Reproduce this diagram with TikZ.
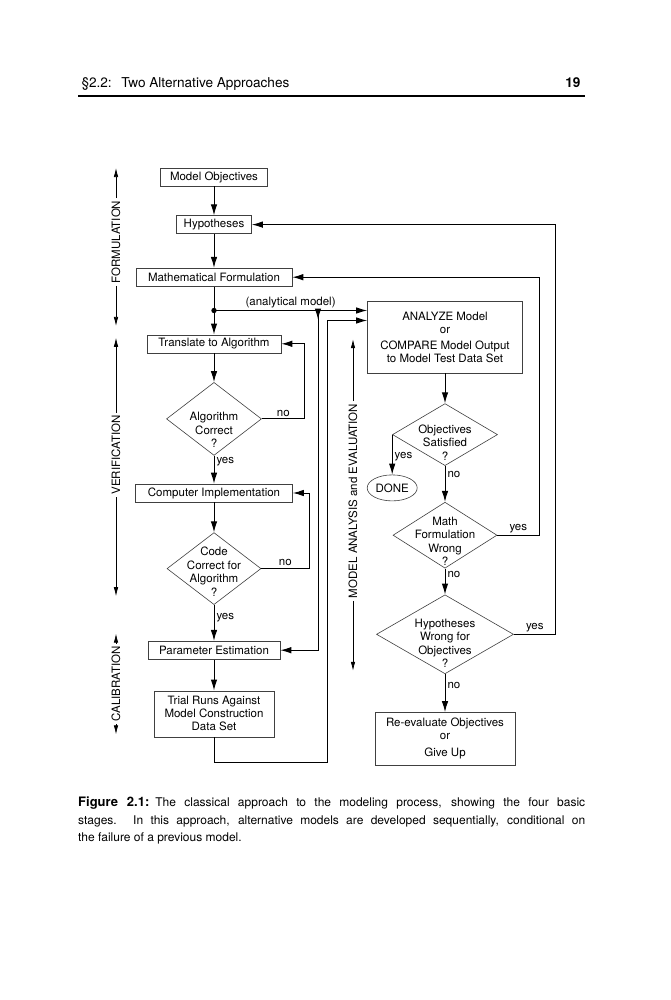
\documentclass[tikz,border=0pt]{standalone}
\usepackage{fontspec}
\setmainfont{TeX Gyre Heros}
\usepackage{tikz}
\usetikzlibrary{shapes,arrows.meta,positioning,calc}

\tikzstyle{block} = [rectangle, draw=black!75, line width=0.6pt, align=center, minimum height=18pt, inner sep=2pt]
\tikzstyle{decision} = [diamond, draw=black!75, line width=0.6pt, inner sep=0pt]
\tikzstyle{terminal} = [ellipse, draw=black!75, line width=0.6pt, minimum width=50pt, minimum height=26pt, inner sep=0pt]
\tikzstyle{qtext} = [align=center, inner sep=0pt, font=\fontsize{11.5}{13.5}\selectfont]
\tikzstyle{answer} = [inner sep=2pt]
\tikzstyle{stage} = [rotate=90, inner sep=2.5pt]
\tikzstyle{flow} = [line width=1pt, -{Latex[length=11pt,width=6.5pt]}]
\tikzstyle{stagearrow} = [line width=0.7pt, -{Latex[length=9pt,width=4.5pt]}]

\newcommand{\diagfont}{\fontsize{11.5}{13}\selectfont}

\begin{document}
\begin{tikzpicture}[x=1pt, y=-1pt, node distance=30pt, font=\diagfont]
  \useasboundingbox[fill=white] (0,0) rectangle (671,1000);

  % page head
  \node [anchor=base west, font=\fontsize{13.6}{16}\selectfont] (head) at (78,88) {\S2.2:\hspace{0.7em}Two Alternative Approaches};
  \node [anchor=base east, font=\fontsize{13.6}{16}\selectfont\bfseries] (page) at (584,88) {19};
  \draw [line width=1.4pt] ($(head.base west)+(0,8)$) -- ($(page.base east)+(1,8)$);

  % left column
  \node [block, minimum width=107pt] (objectives) at (214,177) {Model Objectives};
  \node [block, minimum width=75pt, below=29pt of objectives] (hypotheses) {Hypotheses};
  \node [block, minimum width=156pt, below=34pt of hypotheses] (mathform) {Mathematical Formulation};
  \node [block, minimum width=134pt, below=48pt of mathform] (translate) {Translate to Algorithm};
  \node [decision, minimum width=95pt, minimum height=73pt, below=29pt of translate] (algcheck) {};
  \node [qtext] (algtext) at ($(algcheck)+(0,11)$) {Algorithm\\Correct\\?};
  \node [block, minimum width=157pt, below=28pt of algcheck] (implement) {Computer Implementation};
  \node [decision, minimum width=94pt, minimum height=72pt, below=30pt of implement] (codecheck) {};
  \node [qtext] (codetext) at ($(codecheck)+(0,3)$) {Code\\Correct for\\Algorithm\\?};
  \node [block, minimum width=132pt, below=36pt of codecheck] (paramest) {Parameter Estimation};
  \node [block, minimum width=120pt, minimum height=46pt, below=31pt of paramest] (trialruns) {Trial Runs Against\\Model Construction\\Data Set};

  % right column
  \node [block, minimum width=155pt, minimum height=72pt] (analyze) at (445,337) {ANALYZE Model\\or\\[3pt]COMPARE Model Output\\to Model Test Data Set};
  \node [decision, minimum width=105pt, minimum height=62pt, below=30pt of analyze] (objcheck) {};
  \node [qtext] (objtext) at ($(objcheck)+(0,8)$) {Objectives\\Satisfied\\?};
  \node [terminal, below=40pt of objcheck.west] (done) {DONE};
  \node [decision, minimum width=104pt, minimum height=66pt, below=36pt of objcheck] (mathcheck) {};
  \node [qtext] (mathtext) at ($(mathcheck)+(0,6)$) {Math\\Formulation\\Wrong\\?};
  \node [decision, minimum width=137pt, minimum height=79pt, below=26pt of mathcheck] (hypcheck) {};
  \node [qtext] (hyptext) at ($(hypcheck)+(0,9)$) {Hypotheses\\Wrong for\\Objectives\\?};
  \node [block, minimum width=140pt, minimum height=53pt, below=38pt of hypcheck] (reeval) {Re-evaluate Objectives\\or\\[4pt]Give Up};

  % stages
  \node [stage] (formulation) at (116,242) {FORMULATION};
  \draw [stagearrow] (formulation.east) -- ++(0,-30);
  \draw [stagearrow] (formulation.west) -- ++(0,40);
  \node [stage] (verification) at (116,455) {VERIFICATION};
  \draw [stagearrow] (verification.east) -- ++(0,-75);
  \draw [stagearrow] (verification.west) -- ++(0,99);
  \node [stage] (calibration) at (116,684) {CALIBRATION};
  \draw [stagearrow] (calibration.east) -- ++(0,-10);
  \draw [stagearrow] (calibration.west) -- ++(0,10);
  \node [stage] (evaluation) at (353,501) {MODEL ANALYSIS and EVALUATION};
  \draw [stagearrow] (evaluation.east) -- ++(0,-62);
  \draw [stagearrow] (evaluation.west) -- ++(0,70);

  % connectors
  \draw [flow] (objectives) -- (hypotheses);
  \draw [flow] (hypotheses) -- (mathform);
  \coordinate (split) at ($(mathform.south)!0.5!(translate.north)$);
  \draw [flow] (mathform) -- (translate);
  \fill (split) circle (2.7pt);
  \draw [flow] (split) -- node[above, answer] {(analytical model)} (split -| analyze.west);
  \coordinate [right=104pt of split] (tap);
  \draw [flow] (tap) -- ++(0,9);
  \draw [flow] (tap) |- (paramest.east);

  \draw [flow] (translate) -- (algcheck);
  \draw [flow] (algcheck) -- node[right, answer, pos=0.2] {yes} (implement);
  \draw [flow] (algcheck.east) -- node[above, answer] {no} ++(43,0) |- (translate.east);
  \draw [flow] (implement) -- (codecheck);
  \draw [flow] (codecheck) -- node[right, answer, pos=0.36] {yes} (paramest);
  \draw [flow] (codecheck.east) -- node[above, answer] {no} ++(48,0) |- (implement.east);
  \draw [flow] (paramest) -- (trialruns);
  \coordinate [below right=10pt and 113pt of split] (rejoin);
  \draw [flow] (trialruns.south) -- ++(0,25) -| (rejoin) -- (rejoin -| analyze.west);

  \draw [flow] (analyze) -- (objcheck);
  \draw [flow] (objcheck.west) -- node[right, answer, pos=0.55] {yes} (done);
  \draw [flow] (objcheck) -- node[right, answer, pos=0.25] {no} (mathcheck);
  \draw [flow] (mathcheck.east) -- node[above, answer] {yes} ++(42,0) |- (mathform.east);
  \draw [flow] (mathcheck) -- node[right, answer, pos=0.23] {no} (hypcheck);
  \draw [flow] (hypcheck.east) -- node[above, answer] {yes} ++(42,0) |- (hypotheses.east);
  \draw [flow] (hypcheck) -- node[right, answer, pos=0.29] {no} (reeval);

  % caption
  \node [anchor=north west, text width=507pt, align=justify, inner sep=0pt, font=\fontsize{12}{17.5}\selectfont] (caption) at (78,797) {{\fontsize{13}{17.5}\selectfont\textbf{Figure 2.1:}}\hspace{0.5em}The classical approach to the modeling process, showing the four basic\linebreak stages.  In this approach, alternative models are developed sequentially, conditional on\linebreak the failure of a previous model.};
\end{tikzpicture}
\end{document}
